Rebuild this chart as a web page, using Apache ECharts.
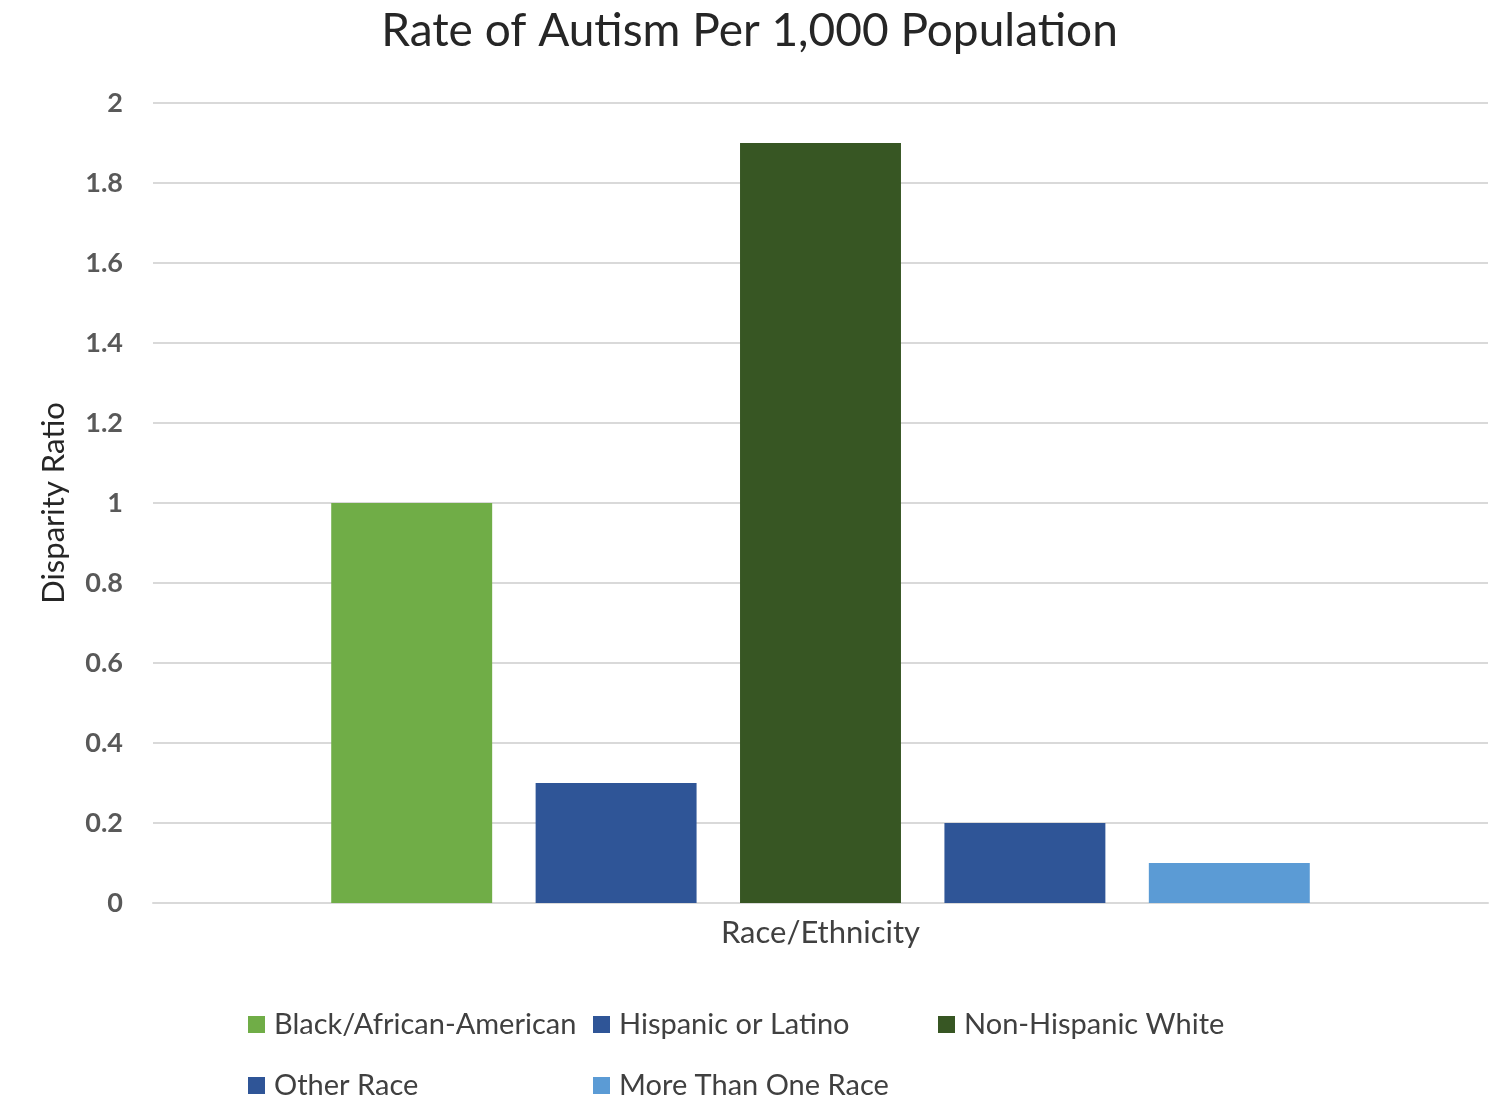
<!DOCTYPE html>
<html><head><meta charset="utf-8">
<script src="https://cdn.jsdelivr.net/npm/echarts@6/dist/echarts.min.js"></script>
<style>html,body{margin:0;padding:0;background:#fff}#c{width:1499px;height:1102px}</style>
</head><body><div id="c"></div>
<script>
const categories = ['Race/Ethnicity'];
const seriesNames = ['Black/African-American','Hispanic or Latino','Non-Hispanic White','Other Race','More Than One Race'];
const seriesValues = [[1.0],[0.3],[1.9],[0.2],[0.1]];
const seriesColors = ['#70AD47','#2F5597','#375623','#2F5597','#5B9BD5'];
const yTicks = [0,0.2,0.4,0.6,0.8,1,1.2,1.4,1.6,1.8,2];

const FONT = 'Lato, "Open Sans", sans-serif';
const legendPos = [[243,1005],[588,1005],[933,1005],[243,1066],[588,1066]];
const chart = echarts.init(document.getElementById('c'));
chart.setOption({
  animation:false,
  title:{text:'Rate of Autism Per 1,000 Population',left:'center',top:3,
    textStyle:{fontFamily:FONT,fontSize:46,fontWeight:'normal',color:'#262626'}},
  grid:{left:153,right:11,top:103,bottom:199,containLabel:false},
  legend: seriesNames.map((n,i)=>({data:[n],left:legendPos[i][0],top:legendPos[i][1],
    itemWidth:17,itemHeight:17,icon:'rect',
    textStyle:{fontFamily:FONT,fontSize:29,color:'#404040',padding:[0,0,0,4]}})),
  xAxis:{type:'category',data:categories,
    axisLine:{lineStyle:{color:'#D9D9D9',width:2}},axisTick:{show:false},
    axisLabel:{fontFamily:FONT,fontSize:31,color:'#404040',margin:14}},
  yAxis:{type:'value',min:0,max:2,interval:0.2,
    name:'Disparity Ratio',nameLocation:'middle',nameGap:84,nameRotate:90,
    nameTextStyle:{fontFamily:FONT,fontSize:31,color:'#262626'},
    axisLabel:{fontFamily:FONT,fontSize:27,fontWeight:'bold',color:'#595959',margin:30,
      formatter:v=>String(+v.toFixed(1))},
    splitLine:{lineStyle:{color:'#D9D9D9',width:2}},
    axisLine:{show:false},axisTick:{show:false}},
  series: seriesNames.map((n,i)=>({name:n,type:'bar',data:seriesValues[i],
    itemStyle:{color:seriesColors[i]},barGap:'27%',barCategoryGap:'26.7%'}))
});
</script></body></html>
